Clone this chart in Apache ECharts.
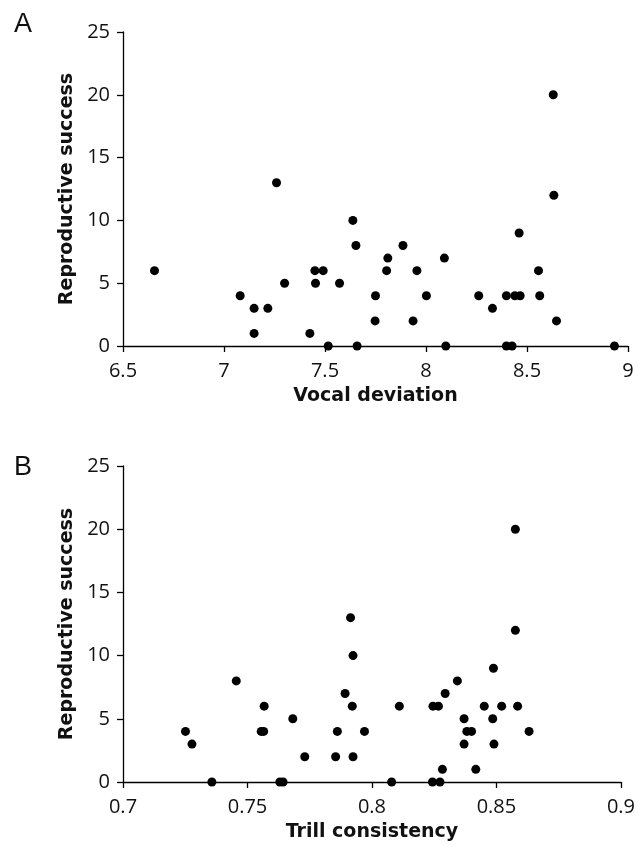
<!DOCTYPE html>
<html lang="en">
<head>
    <meta charset="UTF-8">
    <title>Reproductive success scatter</title>
    <script src="https://cdn.jsdelivr.net/npm/echarts@6/dist/echarts.min.js"></script>
    <style>
        html, body { margin: 0; padding: 0; background: #fff; }
    </style>
</head>
<body>
<div id="main" style="width: 638px;height: 853px;"></div>
<script>
    // panel A: vocal deviation vs reproductive success
    var vocalDev = [6.656, 7.080, 7.149, 7.149, 7.217, 7.260, 7.300, 7.425, 7.450, 7.453,
        7.491, 7.516, 7.572, 7.638, 7.653, 7.659, 7.750, 7.748, 7.811, 7.805,
        7.886, 7.936, 7.955, 8.002, 8.091, 8.098, 8.261, 8.329, 8.398, 8.398,
        8.426, 8.440, 8.466, 8.461, 8.557, 8.563, 8.633, 8.630, 8.646, 8.933];
    var successA = [6, 4, 3, 1, 3, 13, 5, 1, 6, 5,
        6, 0, 5, 10, 8, 0, 4, 2, 7, 6,
        8, 2, 6, 4, 7, 0, 4, 3, 4, 0,
        0, 4, 4, 9, 6, 4, 12, 20, 2, 0];

    // panel B: trill consistency vs reproductive success
    var trillCons = [0.7251, 0.7277, 0.7357, 0.7455, 0.7567, 0.7555, 0.7565, 0.7682, 0.7630, 0.7643,
        0.7730, 0.7854, 0.7861, 0.7892, 0.7914, 0.7924, 0.7921, 0.7924, 0.7970, 0.8079,
        0.8110, 0.8245, 0.8267, 0.8243, 0.8273, 0.8283, 0.8294, 0.8343, 0.8370, 0.8370,
        0.8381, 0.8400, 0.8417, 0.8451, 0.8485, 0.8488, 0.8490, 0.8521, 0.8576, 0.8585,
        0.8631, 0.8576];
    var successB = [4, 3, 0, 8, 6, 4, 4, 5, 0, 0,
        2, 2, 4, 7, 13, 10, 6, 2, 4, 0,
        6, 6, 6, 0, 0, 1, 7, 8, 5, 3,
        4, 4, 1, 6, 5, 9, 3, 6, 12, 6,
        4, 20];

    var yTicks = {min: 0, max: 25, interval: 5};

    function pairs(xs, ys) {
        var out = [];
        for (var i = 0; i < xs.length; i++) {
            out.push([xs[i], ys[i]]);
        }
        return out;
    }

    var lineStyle = {color: '#000', width: 1.3};
    var tickFont = {color: '#111', fontFamily: 'Open Sans', fontSize: 20};
    var nameFont = {color: '#111', fontFamily: 'DejaVu Sans', fontWeight: 'bold', fontSize: 19};

    function xAxisOf(idx, name, min, max, interval) {
        return {
            gridIndex: idx, type: 'value', min: min, max: max, interval: interval,
            name: name, nameLocation: 'middle', nameGap: 41, nameTextStyle: nameFont,
            axisLine: {show: true, onZero: false, lineStyle: lineStyle},
            axisTick: {show: true, inside: false, length: 6, lineStyle: lineStyle},
            axisLabel: Object.assign({margin: 15}, tickFont),
            splitLine: {show: false}
        };
    }

    function yAxisOf(idx) {
        return {
            gridIndex: idx, type: 'value', min: yTicks.min, max: yTicks.max, interval: yTicks.interval,
            name: 'Reproductive success', nameLocation: 'middle', nameRotate: 90, nameGap: 45,
            nameTextStyle: nameFont,
            axisLine: {show: true, onZero: false, lineStyle: lineStyle},
            axisTick: {show: true, inside: false, length: 6, lineStyle: lineStyle},
            axisLabel: Object.assign({margin: 13}, tickFont),
            splitLine: {show: false}
        };
    }

    var myChart = echarts.init(document.getElementById('main'));

    var option = {
        backgroundColor: '#fff',
        animation: false,
        title: [
            {text: 'A', left: 9, top: 6, textStyle: {fontFamily: 'Liberation Sans', fontWeight: 'normal', fontSize: 27, color: '#111'}},
            {text: 'B', left: 9, top: 449, textStyle: {fontFamily: 'Liberation Sans', fontWeight: 'normal', fontSize: 27, color: '#111'}}
        ],
        grid: [
            {left: 123, top: 32, width: 505, height: 314},
            {left: 123, top: 466, width: 499, height: 316}
        ],
        xAxis: [
            xAxisOf(0, 'Vocal deviation', 6.5, 9, 0.5),
            xAxisOf(1, 'Trill consistency', 0.7, 0.9, 0.05)
        ],
        yAxis: [yAxisOf(0), yAxisOf(1)],
        series: [
            {
                type: 'scatter', xAxisIndex: 0, yAxisIndex: 0,
                symbolSize: 9, itemStyle: {color: '#000', opacity: 1},
                data: pairs(vocalDev, successA)
            },
            {
                type: 'scatter', xAxisIndex: 1, yAxisIndex: 1,
                symbolSize: 9, itemStyle: {color: '#000', opacity: 1},
                data: pairs(trillCons, successB)
            }
        ]
    };

    myChart.setOption(option);
</script>
</body>
</html>
